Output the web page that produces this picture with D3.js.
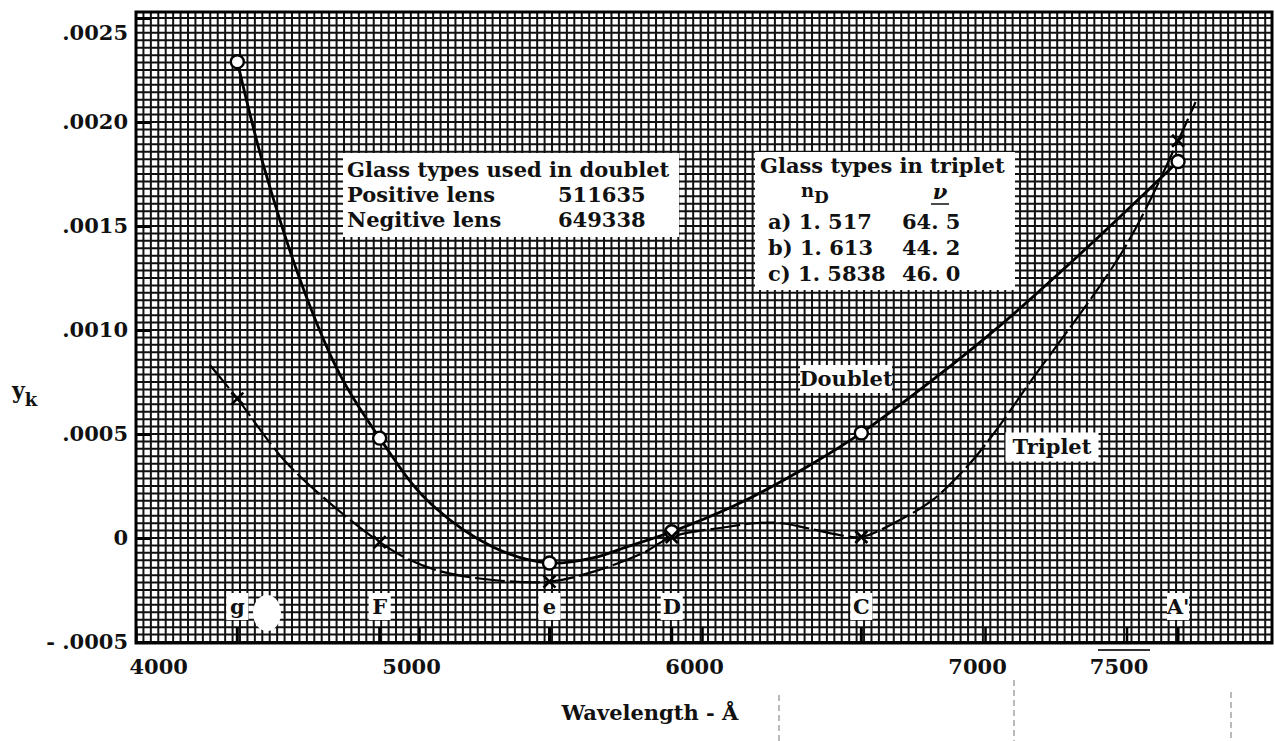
<!DOCTYPE html>
<html><head><meta charset="utf-8">
<script src="https://cdn.jsdelivr.net/npm/d3@7"></script>
<style>
html,body{margin:0;padding:0;background:#fff;}
svg{display:block;}
text{font-family:"DejaVu Serif",serif;font-weight:bold;fill:#111;}
</style></head><body>
<svg id="c" width="1275" height="741"></svg>
<script>
// ---- data ----
const xTickValues = [4000, 5000, 6000, 7000, 7500];
const yTickValues = [-0.0005, 0, 0.0005, 0.001, 0.0015, 0.002, 0.0025];
const yTickLabels = ["- .0005", "0", ".0005", ".0010", ".0015", ".0020", ".0025"];

const lineNames = ["g", "F", "e", "D", "C", "A'"];
const lineWavelengths = [4358, 4861, 5461, 5893, 6563, 7682];
const doubletValues = [0.00229, 0.00048, -0.00012, 0.00003, 0.000505, 0.00181];
const tripletValues = [0.00067, -0.00002, -0.00021, 0.000005, 0.000005, 0.00191];

// hand-drawn curves
const doubletTraceWl  = [4358, 4452, 4593, 4721, 4861, 5028, 5261, 5461, 5614, 5734, 5893, 6134, 6370, 6563, 6815, 7052, 7359, 7682];
const doubletTraceVal = [0.00229, 0.001784, 0.001192, 0.000784, 0.00048, 0.000183, -0.000043, -0.00012, -0.000096, -0.000043, 0.00003, 0.000168, 0.000341, 0.000505, 0.00076, 0.00102, 0.001394, 0.00181];
const tripletTraceWl  = [4261, 4358, 4523, 4685, 4861, 4968, 5084, 5261, 5461, 5614, 5791, 5893, 6088, 6194, 6275, 6370, 6487, 6563, 6699, 6815, 6935, 7027, 7147, 7493, 7682, 7744];
const tripletTraceVal = [0.000832, 0.00067, 0.000375, 0.000168, -0.00002, -0.000106, -0.000163, -0.000202, -0.00021, -0.000163, -0.000072, 0.000005, 0.000053, 0.000072, 0.000072, 0.000048, 0.000014, 0.000005, 0.000087, 0.000183, 0.000341, 0.000495, 0.000726, 0.001394, 0.00191, 0.002096];

const doubletTitle = "Glass types used in doublet";
const doubletGlassLabels = ["Positive lens", "Negitive lens"];
const doubletGlassCodes = ["511635", "649338"];
const tripletTitle = "Glass types in triplet";
const tripletGlassIds = ["a)", "b)", "c)"];
const tripletNd = ["1. 517", "1. 613", "1. 5838"];
const tripletNu = ["64. 5", "44. 2", "46. 0"];

// ---- layout ----
const FS = 21;
const svg = d3.select("#c");
const L = 136, R = 1272, T = 12, B = 643;
const x = d3.scaleLinear().domain([4000, 8014]).range([L, R]);
const y = d3.scaleLinear().domain([-0.0005, 0.0025]).range([642, 18]);

svg.append("defs").append("clipPath").attr("id", "pc")
  .append("rect").attr("x", L).attr("y", T).attr("width", R - L).attr("height", B - T);

// graph-paper grid
const grid = svg.append("g").attr("clip-path", "url(#pc)");
const gxStep = 26.25, gyStep = 0.0005 / 14;
const gx = d3.range(4000, 8030, gxStep);
const gy = d3.range(-0.0005 - 2 * gyStep, 0.0026, gyStep);
grid.selectAll("line.v").data(gx).join("line")
  .attr("x1", d => x(d)).attr("x2", d => x(d)).attr("y1", T).attr("y2", B)
  .attr("stroke", "#111").attr("stroke-width", 2);
grid.selectAll("line.h").data(gy).join("line")
  .attr("y1", d => y(d)).attr("y2", d => y(d)).attr("x1", L).attr("x2", R)
  .attr("stroke", "#111").attr("stroke-width", 2);

// frame
svg.append("rect").attr("x", L).attr("y", T).attr("width", R - L).attr("height", B - T)
  .attr("fill", "none").attr("stroke", "#000").attr("stroke-width", 3);

// y axis
const yAxis = d3.axisLeft(y).tickValues(yTickValues)
  .tickFormat((d, i) => yTickLabels[i]).tickSize(-14).tickPadding(8);
const ya = svg.append("g").attr("transform", `translate(${L},0)`).call(yAxis);
ya.select(".domain").remove();
ya.selectAll(".tick line").attr("stroke", "#000").attr("stroke-width", 3);
ya.selectAll(".tick text").attr("font-family", "DejaVu Serif").attr("font-weight", "bold")
  .attr("font-size", FS).attr("fill", "#111")
  .attr("dy", d => d === 0.0025 ? "1.0em" : "0.32em");

// x axis
const xAxis = d3.axisBottom(x).tickValues(xTickValues).tickSize(-16).tickPadding(16).tickFormat(d3.format("d"));
const xa = svg.append("g").attr("transform", `translate(0,${B})`).call(xAxis);
xa.select(".domain").remove();
xa.selectAll(".tick line").attr("stroke", "#000").attr("stroke-width", 2.5);
xa.selectAll(".tick text").attr("font-family", "DejaVu Serif").attr("font-weight", "bold")
  .attr("font-size", FS).attr("fill", "#111")
  .attr("text-anchor", d => d === 4000 ? "start" : "middle")
  .attr("dx", d => d === 4000 ? -7 : -8);

// spectral line ticks and labels
const lines = svg.append("g");
lineWavelengths.forEach((wl, i) => {
  lines.append("line").attr("x1", x(wl)).attr("x2", x(wl)).attr("y1", 627).attr("y2", B)
    .attr("stroke", "#000").attr("stroke-width", 3);
  lines.append("rect").attr("x", x(wl) - 11).attr("y", 593).attr("width", 22).attr("height", 27)
    .attr("fill", "#fff");
  lines.append("text").attr("x", x(wl)).attr("y", 614).attr("text-anchor", "middle")
    .attr("font-size", FS).text(lineNames[i]);
});
// white smudge next to g
svg.append("ellipse").attr("cx", 267).attr("cy", 613).attr("rx", 14).attr("ry", 18).attr("fill", "#fff");

// curves
const lineGen = d3.line().x(d => x(d[0])).y(d => y(d[1])).curve(d3.curveCatmullRom.alpha(0.5));
svg.append("path").datum(d3.zip(doubletTraceWl, doubletTraceVal)).attr("d", lineGen)
  .attr("fill", "none").attr("stroke", "#000").attr("stroke-width", 2.8);
svg.append("path").datum(d3.zip(tripletTraceWl, tripletTraceVal)).attr("d", lineGen)
  .attr("fill", "none").attr("stroke", "#000").attr("stroke-width", 2.2)
  .attr("stroke-dasharray", "30,5");

// markers
svg.selectAll("circle.dm").data(d3.zip(lineWavelengths, doubletValues)).join("circle")
  .attr("cx", d => x(d[0])).attr("cy", d => y(d[1])).attr("r", 6.5)
  .attr("fill", "#fff").attr("stroke", "#000").attr("stroke-width", 2.4);
svg.selectAll("path.tm").data(d3.zip(lineWavelengths, tripletValues)).join("path")
  .attr("d", d => { const cx = x(d[0]), cy = y(d[1]), s = 6;
    return `M${cx - s},${cy - s}L${cx + s},${cy + s}M${cx - s},${cy + s}L${cx + s},${cy - s}`; })
  .attr("stroke", "#000").attr("stroke-width", 2.6).attr("fill", "none");

// curve labels
function labelBox(txt, cx, cy, w, h) {
  svg.append("rect").attr("x", cx - w / 2).attr("y", cy - h / 2).attr("width", w).attr("height", h).attr("fill", "#fff");
  svg.append("text").attr("x", cx).attr("y", cy + 7).attr("text-anchor", "middle").attr("font-size", FS).text(txt);
}
labelBox("Doublet", 846, 379, 92, 28);
labelBox("Triplet", 1052, 447, 93, 29);

// doublet glass box
svg.append("rect").attr("x", 343).attr("y", 153).attr("width", 336).attr("height", 84).attr("fill", "#fff");
svg.append("text").attr("x", 347).attr("y", 177).attr("font-size", FS).text(doubletTitle);
doubletGlassLabels.forEach((t, i) => {
  svg.append("text").attr("x", 347).attr("y", 202 + i * 25).attr("font-size", FS).text(t);
  svg.append("text").attr("x", 558).attr("y", 202 + i * 25).attr("font-size", FS).text(doubletGlassCodes[i]);
});

// triplet glass box
svg.append("rect").attr("x", 755).attr("y", 152).attr("width", 260).attr("height", 138).attr("fill", "#fff");
svg.append("text").attr("x", 760).attr("y", 173).attr("font-size", FS).text(tripletTitle);
const nd = svg.append("text").attr("x", 801).attr("y", 197).attr("font-size", 18);
nd.append("tspan").text("n");
nd.append("tspan").attr("dy", 6).attr("font-size", 17).text("D");
svg.append("text").attr("x", 940).attr("y", 199).attr("text-anchor", "middle").attr("font-size", FS)
  .attr("font-style", "italic").text("ν");
svg.append("line").attr("x1", 931).attr("x2", 949).attr("y1", 204).attr("y2", 204).attr("stroke", "#111").attr("stroke-width", 1.5);
tripletGlassIds.forEach((t, i) => {
  const by = 229 + i * 26;
  svg.append("text").attr("x", 768).attr("y", by).attr("font-size", FS).text(t + " " + tripletNd[i]);
  svg.append("text").attr("x", 902).attr("y", by).attr("font-size", FS).text(tripletNu[i]);
});

// axis titles
const yl = svg.append("text").attr("x", 12).attr("y", 398).attr("font-size", 22);
yl.append("tspan").text("y");
yl.append("tspan").attr("dy", 8).attr("font-size", 18).text("k");
svg.append("text").attr("x", 650).attr("y", 720).attr("text-anchor", "middle").attr("font-size", FS).text("Wavelength - Å");

// scan artefacts below the chart
[[779, 695, 741], [1014, 680, 741], [1231, 692, 741]].forEach(a => {
  svg.append("line").attr("x1", a[0]).attr("x2", a[0]).attr("y1", a[1]).attr("y2", a[2])
    .attr("stroke", "#777").attr("stroke-width", 1).attr("stroke-dasharray", "6,4");
});
svg.append("line").attr("x1", 1098).attr("x2", 1150).attr("y1", 650).attr("y2", 650).attr("stroke", "#333").attr("stroke-width", 2);
</script></body></html>
